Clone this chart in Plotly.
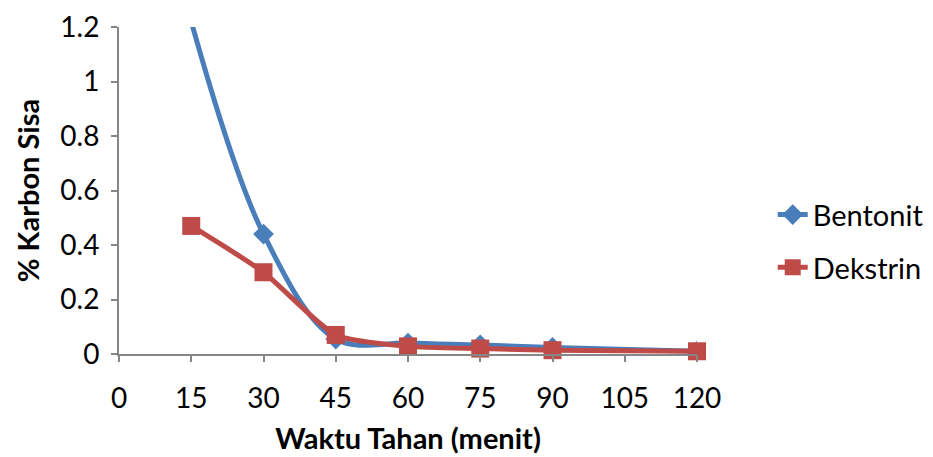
import plotly.graph_objects as go

x_vals = [15, 30, 45, 60, 75, 90, 120]
bentonit = [1.22, 0.44, 0.055, 0.04, 0.033, 0.024, 0.01]
dekstrin = [0.47, 0.30, 0.07, 0.028, 0.02, 0.014, 0.01]
x_ticks = [0, 15, 30, 45, 60, 75, 90, 105, 120]
y_ticks = [0, 0.2, 0.4, 0.6, 0.8, 1, 1.2]

FONT = "Lato, Open Sans, sans-serif"

fig = go.Figure()
fig.add_trace(go.Scatter(
    x=x_vals, y=bentonit, name="Bentonit", mode="lines+markers",
    legendgroup="b",
    line=dict(color="#4A7EBB", width=5, shape="spline", smoothing=1.0),
    marker=dict(symbol="diamond", size=16, color="#4A7EBB"),
    cliponaxis=True,
))
fig.add_trace(go.Scatter(
    x=x_vals, y=dekstrin, name="Dekstrin", mode="lines+markers",
    legendgroup="d",
    line=dict(color="#BE4B48", width=5, shape="spline", smoothing=0.6),
    marker=dict(symbol="square", size=18, color="#BE4B48"),
    cliponaxis=False,
))

fig.update_layout(
    width=933, height=457,
    margin=dict(l=111, r=239, t=19, b=111),
    paper_bgcolor="white", plot_bgcolor="white",
    font=dict(family=FONT, size=28, color="black"),
    legend=dict(x=1.131, y=0.345, xanchor="left", yanchor="middle",
                font=dict(size=29), itemwidth=30, traceorder="grouped",
                tracegroupgap=12, bgcolor="rgba(0,0,0,0)"),
    xaxis=dict(
        range=[0, 120], tickvals=x_ticks, ticktext=[str(v) for v in x_ticks],
        showgrid=False, zeroline=False, showline=True, linecolor="#868686", linewidth=2,
        ticks="outside", ticklen=6, tickcolor="#868686", tickwidth=2,
        ticklabelstandoff=12, tickfont=dict(size=28), automargin=False,
        title=dict(text="<b>Waktu Tahan (menit)</b>", font=dict(size=29), standoff=16),
    ),
    yaxis=dict(
        range=[0, 1.2], tickvals=y_ticks, ticktext=["0", "0.2", "0.4", "0.6", "0.8", "1", "1.2"],
        showgrid=False, zeroline=False, showline=True, linecolor="#868686", linewidth=2,
        ticks="outside", ticklen=6, tickcolor="#868686", tickwidth=2,
        ticklabelstandoff=6, tickfont=dict(size=28), automargin=False,
        title=dict(text="<b>% Karbon Sisa</b>", font=dict(size=29), standoff=12),
    ),
)

fig.write_html("out.html")
